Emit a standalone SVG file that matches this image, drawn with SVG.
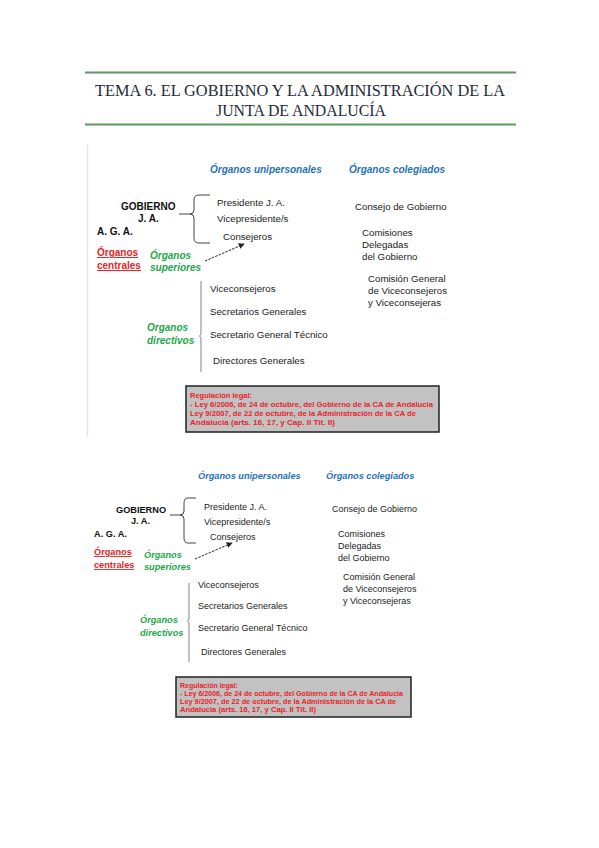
<svg xmlns="http://www.w3.org/2000/svg" width="599" height="848" viewBox="0 0 599 848">
<defs>
<style>
.title{font-family:"Liberation Serif",serif;font-size:16px;fill:#1e2a3a;text-anchor:middle}
.hdr{font-family:"Liberation Sans",Arial,sans-serif;font-weight:bold;font-style:italic;fill:#1f72b8}
.bk{font-family:"Liberation Sans",Arial,sans-serif;font-weight:bold;fill:#111}
.red{font-family:"Liberation Sans",Arial,sans-serif;font-weight:bold;fill:#e8232a;text-decoration:underline}
.grn{font-family:"Liberation Sans",Arial,sans-serif;font-weight:bold;font-style:italic;fill:#22a84a}
.txt{font-family:"Liberation Sans",Arial,sans-serif;fill:#222}
.reg{font-family:"Liberation Sans",Arial,sans-serif;font-weight:bold;fill:#e8232a}
.box{fill:#c2c2c2;stroke:#222;stroke-width:1.5}
.brace{fill:none;stroke:#444;stroke-width:1}
.thin{fill:none;stroke:#666;stroke-width:0.8}
.arr{fill:none;stroke:#222;stroke-width:1;stroke-dasharray:2.5 1.2}
</style>
<marker id="ah" viewBox="0 0 8 8" refX="7" refY="4" markerWidth="6" markerHeight="6" orient="auto">
<path d="M0,0 L8,4 L0,8 z" fill="#222"/>
</marker>
</defs>
<rect width="599" height="848" fill="#fff"/>

<g id="title">
<line x1="85" y1="72.5" x2="516" y2="72.5" stroke="#5c9a5e" stroke-width="2"/>
<line x1="85" y1="124.5" x2="516" y2="124.5" stroke="#5c9a5e" stroke-width="2"/>
<text class="title" x="300" y="96" textLength="410" lengthAdjust="spacingAndGlyphs">TEMA 6. EL GOBIERNO Y LA ADMINISTRACIÓN DE LA</text>
<text class="title" x="301" y="116" textLength="170" lengthAdjust="spacingAndGlyphs">JUNTA DE ANDALUCÍA</text>
</g>

<!-- Diagram 1 -->
<line x1="87.5" y1="145" x2="87.5" y2="437" stroke="#e6e6e6" stroke-width="1.5"/>
<g id="d1-connectors">
<path class="brace" d="M210,195 L199,195 Q194,195 194,200 L194,210 Q194,214 190,214 Q194,214 194,218 L194,238 Q194,243 199,243 L210,243"/>
<line class="brace" x1="179" y1="214" x2="190" y2="214"/>
<line class="arr" x1="205" y1="261" x2="244" y2="244" marker-end="url(#ah)"/>
<path class="thin" d="M201,281 L201,334 L199.5,336 L201,338 L201,372"/>
</g>
<g id="d1-hdr-uni"><text class="hdr" x="210" y="173" font-size="10">Órganos unipersonales</text></g>
<g id="d1-hdr-col"><text class="hdr" x="349" y="173" font-size="10">Órganos colegiados</text></g>
<g id="d1-gobierno">
<text class="bk" x="121" y="210" font-size="10">GOBIERNO</text>
<text class="bk" x="138" y="222" font-size="10">J. A.</text>
</g>
<g id="d1-aga"><text class="bk" x="97" y="235" font-size="10">A. G. A.</text></g>
<g id="d1-centrales">
<text class="red" x="97" y="256" font-size="10">Órganos</text>
<text class="red" x="97" y="269" font-size="10">centrales</text>
</g>
<g id="d1-superiores">
<text class="grn" x="150" y="259" font-size="10">Órganos</text>
<text class="grn" x="150" y="271" font-size="10">superiores</text>
</g>
<g id="d1-uni">
<text class="txt" x="217" y="206" font-size="9.7">Presidente J. A.</text>
<text class="txt" x="217" y="222" font-size="9.7">Vicepresidente/s</text>
<text class="txt" x="223" y="240" font-size="9.7">Consejeros</text>
</g>
<g id="d1-col">
<text class="txt" x="355" y="210" font-size="9.7">Consejo de Gobierno</text>
<text class="txt" x="362" y="236" font-size="9.7">Comisiones</text>
<text class="txt" x="362" y="248" font-size="9.7">Delegadas</text>
<text class="txt" x="362" y="260" font-size="9.7">del Gobierno</text>
<text class="txt" x="368" y="282" font-size="9.7">Comisión General</text>
<text class="txt" x="368" y="294" font-size="9.7">de Viceconsejeros</text>
<text class="txt" x="368" y="306" font-size="9.7">y Viceconsejeras</text>
</g>
<g id="d1-directivos">
<text class="grn" x="147" y="331" font-size="10">Organos</text>
<text class="grn" x="147" y="344" font-size="10">directivos</text>
</g>
<g id="d1-dir-list">
<text class="txt" x="210" y="292" font-size="9.7">Viceconsejeros</text>
<text class="txt" x="210" y="315" font-size="9.7">Secretarios Generales</text>
<text class="txt" x="210" y="338" font-size="9.7">Secretario General Técnico</text>
<text class="txt" x="213" y="364" font-size="9.7">Directores Generales</text>
</g>
<g id="d1-regulacion">
<rect class="box" x="186" y="386" width="253" height="46"/>
<text class="reg" x="190" y="398" font-size="7.5">Regulación legal:</text>
<text class="reg" x="190" y="407" font-size="7.5" textLength="243" lengthAdjust="spacingAndGlyphs">- Ley 6/2006, de 24 de octubre, del Gobierno de la CA de Andalucia</text>
<text class="reg" x="190" y="416" font-size="7.5" textLength="226" lengthAdjust="spacingAndGlyphs">Ley 9/2007, de 22 de octubre, de la Administración de la CA de</text>
<text class="reg" x="190" y="425" font-size="7.5" textLength="145" lengthAdjust="spacingAndGlyphs">Andalucia (arts. 16, 17, y Cap. II Tit. II)</text>
</g>

<!-- Diagram 2 -->
<g id="d2-connectors">
<path class="brace" d="M196,498 L188,498 Q184,498 184,503 L184,511 Q184,515 180,515 Q184,515 184,519 L184,538 Q184,543 188,543 L196,543"/>
<line class="brace" x1="170" y1="515" x2="180" y2="515"/>
<line class="arr" x1="195" y1="559" x2="232" y2="543" marker-end="url(#ah)"/>
<path class="thin" d="M189,583 L189,619 L187.5,621 L189,623 L189,662"/>
</g>
<g id="d2-hdr-uni"><text class="hdr" x="198" y="479" font-size="9.2">Órganos unipersonales</text></g>
<g id="d2-hdr-col"><text class="hdr" x="326" y="479" font-size="9.2">Órganos colegiados</text></g>
<g id="d2-gobierno">
<text class="bk" x="116" y="513" font-size="9.2">GOBIERNO</text>
<text class="bk" x="131" y="524" font-size="9.2">J. A.</text>
</g>
<g id="d2-aga"><text class="bk" x="94" y="537" font-size="9.2">A. G. A.</text></g>
<g id="d2-centrales">
<text class="red" x="94" y="555" font-size="9.2">Órganos</text>
<text class="red" x="94" y="568" font-size="9.2">centrales</text>
</g>
<g id="d2-superiores">
<text class="grn" x="144" y="558" font-size="9.2">Órganos</text>
<text class="grn" x="144" y="570" font-size="9.2">superiores</text>
</g>
<g id="d2-uni">
<text class="txt" x="204" y="510" font-size="9">Presidente J. A.</text>
<text class="txt" x="204" y="525" font-size="9">Vicepresidente/s</text>
<text class="txt" x="210" y="540" font-size="9">Consejeros</text>
</g>
<g id="d2-col">
<text class="txt" x="332" y="512" font-size="9">Consejo de Gobierno</text>
<text class="txt" x="338" y="537" font-size="9">Comisiones</text>
<text class="txt" x="338" y="549" font-size="9">Delegadas</text>
<text class="txt" x="338" y="561" font-size="9">del Gobierno</text>
<text class="txt" x="343" y="580" font-size="9">Comisión General</text>
<text class="txt" x="343" y="592" font-size="9">de Viceconsejeros</text>
<text class="txt" x="343" y="604" font-size="9">y Viceconsejeras</text>
</g>
<g id="d2-directivos">
<text class="grn" x="140" y="623" font-size="9.2">Órganos</text>
<text class="grn" x="140" y="636" font-size="9.2">directivos</text>
</g>
<g id="d2-dir-list">
<text class="txt" x="198" y="588" font-size="9">Viceconsejeros</text>
<text class="txt" x="198" y="609" font-size="9">Secretarios Generales</text>
<text class="txt" x="198" y="631" font-size="9">Secretario General Técnico</text>
<text class="txt" x="201" y="655" font-size="9">Directores Generales</text>
</g>
<g id="d2-regulacion">
<rect class="box" x="176" y="677" width="235" height="40"/>
<text class="reg" x="180" y="688" font-size="7">Regulación legal:</text>
<text class="reg" x="180" y="696" font-size="7" textLength="223" lengthAdjust="spacingAndGlyphs">- Ley 6/2006, de 24 de octubre, del Gobierno de la CA de Andalucia</text>
<text class="reg" x="180" y="704" font-size="7" textLength="216" lengthAdjust="spacingAndGlyphs">Ley 9/2007, de 22 de octubre, de la Administración de la CA de</text>
<text class="reg" x="180" y="712" font-size="7" textLength="136" lengthAdjust="spacingAndGlyphs">Andalucia (arts. 16, 17, y Cap. II Tit. II)</text>
</g>
</svg>
